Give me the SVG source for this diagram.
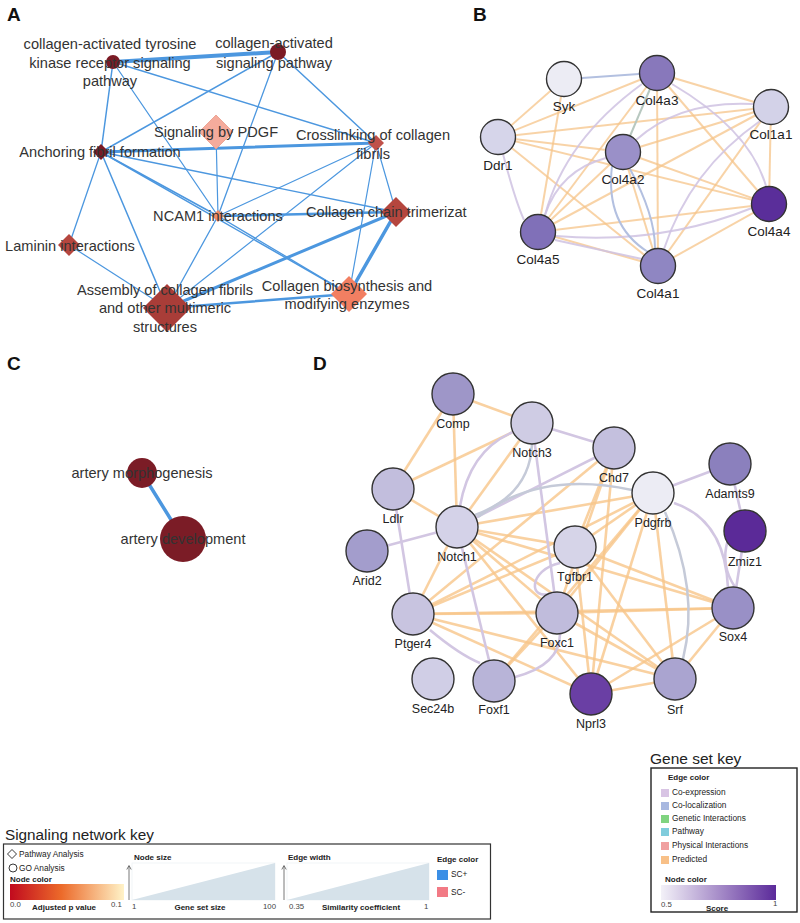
<svg xmlns="http://www.w3.org/2000/svg" width="800" height="923" viewBox="0 0 800 923">
<defs>
<linearGradient id="gradP" x1="0" x2="1" y1="0" y2="0"><stop offset="0" stop-color="#c10a1e"/><stop offset="0.45" stop-color="#ec6a2a"/><stop offset="1" stop-color="#fff3c8"/></linearGradient>
<linearGradient id="gradS" x1="0" x2="1" y1="0" y2="0"><stop offset="0" stop-color="#f3f1f8"/><stop offset="1" stop-color="#5b2a9a"/></linearGradient>
</defs>
<style>
text{font-family:"Liberation Sans",Arial,sans-serif}
.pl{font-size:19px;font-weight:bold;fill:#111}
.la{font-size:14.6px;fill:#333;text-anchor:middle}
.ea{stroke:#4c97df;fill:none;stroke-linecap:round}
.lb{font-size:13.5px;fill:#222;text-anchor:middle}
.ld{font-size:12.5px;fill:#222;text-anchor:middle}
.nb{stroke:#333;stroke-width:1.4}
.eo{stroke:#f5c48a;stroke-width:2;fill:none;opacity:.75}
.el{stroke:#cfc2e2;stroke-width:2;fill:none;opacity:.85}
.eb{stroke:#b3c0e0;stroke-width:2;fill:none}
.eg{stroke:#c5cad8;stroke-width:2.5;fill:none}
.do{stroke:#f7c68a;stroke-width:2.6;fill:none;opacity:.8}
.dl{stroke:#d2c6e2;stroke-width:2.6;fill:none}
.k{font-size:8.3px;fill:#222}
.kb{font-size:8px;font-weight:bold;fill:#222}
.kn{font-size:7.8px;fill:#444}
</style>

<!-- Panel labels -->
<text class="pl" x="7" y="21">A</text>
<text class="pl" x="473" y="21">B</text>
<text class="pl" x="7" y="370">C</text>
<text class="pl" x="313" y="370">D</text>

<!-- Panel A connectors -->
<g id="edges-A">
<line class="ea" x1="113" y1="62" x2="278" y2="52" stroke-width="4"/>
<line class="ea" x1="113" y1="62" x2="101" y2="152" stroke-width="1.5"/>
<line class="ea" x1="113" y1="62" x2="376" y2="143" stroke-width="1.5"/>
<line class="ea" x1="113" y1="62" x2="218" y2="216" stroke-width="1.3"/>
<line class="ea" x1="278" y1="52" x2="101" y2="152" stroke-width="1.5"/>
<line class="ea" x1="278" y1="52" x2="218" y2="216" stroke-width="1.3"/>
<line class="ea" x1="278" y1="52" x2="376" y2="143" stroke-width="1.5"/>
<line class="ea" x1="101" y1="152" x2="376" y2="143" stroke-width="3"/>
<line class="ea" x1="101" y1="152" x2="69" y2="245" stroke-width="1.3"/>
<line class="ea" x1="101" y1="152" x2="167" y2="308" stroke-width="1.5"/>
<line class="ea" x1="101" y1="152" x2="218" y2="216" stroke-width="1.5"/>
<line class="ea" x1="101" y1="152" x2="349" y2="294" stroke-width="1.5"/>
<line class="ea" x1="101" y1="152" x2="396" y2="212" stroke-width="1.3"/>
<line class="ea" x1="216" y1="132" x2="218" y2="216" stroke-width="1.2"/>
<line class="ea" x1="376" y1="143" x2="218" y2="216" stroke-width="1.2"/>
<line class="ea" x1="376" y1="143" x2="167" y2="308" stroke-width="1.2"/>
<line class="ea" x1="376" y1="143" x2="396" y2="212" stroke-width="1.2"/>
<line class="ea" x1="376" y1="143" x2="349" y2="294" stroke-width="1.2"/>
<line class="ea" x1="218" y1="216" x2="396" y2="212" stroke-width="2.5"/>
<line class="ea" x1="218" y1="216" x2="167" y2="308" stroke-width="1.3"/>
<line class="ea" x1="218" y1="216" x2="349" y2="294" stroke-width="1.3"/>
<line class="ea" x1="396" y1="212" x2="167" y2="308" stroke-width="3"/>
<line class="ea" x1="396" y1="212" x2="349" y2="294" stroke-width="3.5"/>
<line class="ea" x1="167" y1="308" x2="349" y2="294" stroke-width="2.5"/>
<line class="ea" x1="69" y1="245" x2="167" y2="308" stroke-width="1.2"/>
</g>

<!-- Panel A nodes -->
<g id="a-tyrosine"><circle cx="113" cy="62" r="7" fill="#7b1a25"/></g>
<g id="a-collagen-signaling"><circle cx="278" cy="52" r="8" fill="#7b1a25"/></g>
<g id="a-pdgf"><path d="M216,115 L233,132 L216,149 L199,132Z" fill="#f5ab9c" stroke="#e89988" stroke-width="0.8"/></g>
<g id="a-crosslinking"><path d="M376,135 L384,143 L376,151 L368,143Z" fill="#c0514a"/></g>
<g id="a-anchoring"><path d="M101,144 L109,152 L101,160 L93,152Z" fill="#7b1a25"/></g>
<g id="a-ncam1"><path d="M218,210 L224,216 L218,222 L212,216Z" fill="#f28a65"/></g>
<g id="a-trimerization"><path d="M396,197 L411,212 L396,227 L381,212Z" fill="#b5463e"/></g>
<g id="a-laminin"><path d="M69,234 L80,245 L69,256 L58,245Z" fill="#b5463e"/></g>
<g id="a-assembly"><path d="M167,284 L191,308 L167,332 L143,308Z" fill="#a93d38"/></g>
<g id="a-biosynthesis"><path d="M349,276 L367,294 L349,312 L331,294Z" fill="#f27f62"/></g>

<!-- Panel A labels -->
<g id="a-labels">
<text class="la" x="110" y="49">collagen-activated tyrosine</text>
<text class="la" x="110" y="68">kinase receptor signaling</text>
<text class="la" x="110" y="86">pathway</text>
<text class="la" x="274" y="48">collagen-activated</text>
<text class="la" x="274" y="68">signaling pathway</text>
<text class="la" x="216" y="137">Signaling by PDGF</text>
<text class="la" x="373" y="140">Crosslinking of collagen</text>
<text class="la" x="373" y="159">fibrils</text>
<text class="la" x="100" y="157">Anchoring fibril formation</text>
<text class="la" x="218" y="221">NCAM1 interactions</text>
<text class="la" x="306" y="217" style="text-anchor:start">Collagen chain trimerizat</text>
<text class="la" x="70" y="251">Laminin interactions</text>
<text class="la" x="165" y="295">Assembly of collagen fibrils</text>
<text class="la" x="165" y="313">and other multimeric</text>
<text class="la" x="165" y="332">structures</text>
<text class="la" x="347" y="291">Collagen biosynthesis and</text>
<text class="la" x="347" y="309">modifying enzymes</text>
</g>

<!-- Panel B connectors -->
<g id="edges-B">
<line class="eo" x1="564" y1="79" x2="498" y2="137"/>
<line class="eo" x1="498" y1="137" x2="657" y2="73"/>
<line class="eo" x1="498" y1="137" x2="771" y2="107"/>
<line class="eo" x1="498" y1="137" x2="623" y2="152"/>
<line class="eo" x1="498" y1="137" x2="769" y2="204"/>
<line class="eo" x1="498" y1="137" x2="658" y2="266"/>
<line class="eo" x1="657" y1="73" x2="771" y2="107"/>
<line class="eo" x1="657" y1="73" x2="769" y2="204"/>
<line class="eo" x1="657" y1="73" x2="658" y2="266"/>
<line class="eo" x1="657" y1="73" x2="538" y2="232"/>
<line class="eo" x1="771" y1="107" x2="623" y2="152"/>
<line class="eo" x1="771" y1="107" x2="769" y2="204"/>
<line class="eo" x1="771" y1="107" x2="538" y2="232"/>
<line class="eo" x1="771" y1="107" x2="658" y2="266"/>
<line class="eo" x1="623" y1="152" x2="769" y2="204"/>
<line class="eo" x1="623" y1="152" x2="538" y2="232"/>
<line class="eo" x1="623" y1="152" x2="658" y2="266"/>
<line class="eo" x1="769" y1="204" x2="538" y2="232"/>
<line class="eo" x1="538" y1="232" x2="658" y2="266"/>
<line class="eo" x1="769" y1="204" x2="658" y2="266"/>
<line class="eo" x1="564" y1="79" x2="538" y2="232"/>
<path class="el" d="M503,154 Q515,200 524,220"/>
<path class="el" d="M642,84 Q565,140 545,215"/>
<path class="el" d="M672,84 Q750,130 766,186"/>
<path class="el" d="M754,104 Q680,100 636,140"/>
<path class="el" d="M760,121 Q690,170 664,249"/>
<path class="el" d="M556,236 Q660,245 752,208"/>
<path class="el" d="M555,240 Q600,250 642,259"/>
<path class="el" d="M606,158 Q560,170 545,215"/>
<line class="eb" x1="582" y1="78" x2="639" y2="74"/>
<path class="eb" d="M612,166 Q605,225 648,252"/>
<path class="eb" d="M630,169 Q655,215 655,248"/>
<line x1="650" y1="89" x2="630" y2="136" stroke="#b8c8c0" stroke-width="2"/>
</g>

<!-- Panel B nodes -->
<g id="b-syk"><circle class="nb" cx="564" cy="79" r="17.5" fill="#ececf4"/><text class="lb" x="564" y="111">Syk</text></g>
<g id="b-col4a3"><circle class="nb" cx="657" cy="73" r="17.5" fill="#8878bb"/><text class="lb" x="657" y="105">Col4a3</text></g>
<g id="b-col1a1"><circle class="nb" cx="771" cy="107" r="17.5" fill="#d3d2e8"/><text class="lb" x="771" y="139">Col1a1</text></g>
<g id="b-ddr1"><circle class="nb" cx="498" cy="137" r="17.5" fill="#d6d5ea"/><text class="lb" x="498" y="170">Ddr1</text></g>
<g id="b-col4a2"><circle class="nb" cx="623" cy="152" r="17.5" fill="#9a90c8"/><text class="lb" x="623" y="184">Col4a2</text></g>
<g id="b-col4a4"><circle class="nb" cx="769" cy="204" r="17.5" fill="#5a2e9a"/><text class="lb" x="769" y="236">Col4a4</text></g>
<g id="b-col4a5"><circle class="nb" cx="538" cy="232" r="17.5" fill="#8070b8"/><text class="lb" x="538" y="264">Col4a5</text></g>
<g id="b-col4a1"><circle class="nb" cx="658" cy="266" r="17.5" fill="#8f86c2"/><text class="lb" x="658" y="298">Col4a1</text></g>

<!-- Panel C -->
<g id="edges-C"><line class="ea" x1="142" y1="473" x2="183" y2="539" stroke-width="3.5"/></g>
<g id="c-morphogenesis"><circle cx="142" cy="473" r="15" fill="#7b1c26"/><text class="la" x="142" y="478">artery morphogenesis</text></g>
<g id="c-development"><circle cx="183" cy="539" r="23" fill="#7b1c26"/><text class="la" x="183" y="544">artery development</text></g>

<!-- Panel D connectors -->
<g id="edges-D">
<line class="do" x1="453" y1="394" x2="532" y2="423"/>
<line class="do" x1="453" y1="394" x2="393" y2="489"/>
<line class="do" x1="453" y1="394" x2="457" y2="527"/>
<line class="do" x1="532" y1="423" x2="393" y2="489"/>
<line class="do" x1="532" y1="423" x2="457" y2="527"/>
<line class="do" x1="614" y1="448" x2="575" y2="547"/>
<line class="do" x1="614" y1="448" x2="413" y2="614"/>
<line class="do" x1="614" y1="448" x2="557" y2="613"/>
<line class="do" x1="614" y1="448" x2="591" y2="694"/>
<line class="do" x1="393" y1="489" x2="457" y2="527"/>
<line class="do" x1="653" y1="493" x2="457" y2="527"/>
<line class="do" x1="653" y1="493" x2="575" y2="547"/>
<line class="do" x1="653" y1="493" x2="413" y2="614"/>
<line class="do" x1="653" y1="493" x2="557" y2="613"/>
<line class="do" x1="653" y1="493" x2="591" y2="694"/>
<line class="do" x1="653" y1="493" x2="675" y2="679"/>
<line class="do" x1="653" y1="493" x2="494" y2="681"/>
<line class="do" x1="457" y1="527" x2="575" y2="547"/>
<line class="do" x1="457" y1="527" x2="557" y2="613"/>
<line class="do" x1="457" y1="527" x2="733" y2="608"/>
<line class="do" x1="457" y1="527" x2="675" y2="679"/>
<line class="do" x1="457" y1="527" x2="591" y2="694"/>
<line class="do" x1="457" y1="527" x2="413" y2="614"/>
<line class="do" x1="575" y1="547" x2="413" y2="614"/>
<line class="do" x1="575" y1="547" x2="733" y2="608"/>
<line class="do" x1="575" y1="547" x2="675" y2="679"/>
<line class="do" x1="575" y1="547" x2="591" y2="694"/>
<line class="do" x1="413" y1="614" x2="557" y2="613" stroke-width="3.2"/>
<line class="do" x1="413" y1="614" x2="733" y2="608" stroke-width="3"/>
<line class="do" x1="413" y1="614" x2="675" y2="679"/>
<line class="do" x1="413" y1="614" x2="591" y2="694"/>
<line class="do" x1="557" y1="613" x2="733" y2="608"/>
<line class="do" x1="557" y1="613" x2="675" y2="679"/>
<line class="do" x1="557" y1="613" x2="494" y2="681"/>
<line class="do" x1="591" y1="694" x2="675" y2="679"/>
<line class="do" x1="591" y1="694" x2="733" y2="608"/>
<line class="do" x1="675" y1="679" x2="733" y2="608"/>
<line class="dl" x1="532" y1="423" x2="614" y2="448"/>
<line class="dl" x1="532" y1="423" x2="557" y2="613"/>
<path class="dl" d="M513,432 Q470,450 460,506"/>
<line class="dl" x1="614" y1="448" x2="457" y2="527"/>
<line class="dl" x1="653" y1="493" x2="730" y2="464"/>
<line class="dl" x1="730" y1="464" x2="745" y2="531"/>
<line class="dl" x1="745" y1="531" x2="733" y2="608"/>
<path class="dl" d="M728,540 Q720,565 735,587"/>
<line class="dl" x1="393" y1="489" x2="413" y2="614"/>
<line class="dl" x1="367" y1="551" x2="457" y2="527"/>
<line class="dl" x1="457" y1="527" x2="494" y2="681"/>
<path class="dl" d="M560,563 C528,570 528,602 552,593"/>
<path class="dl" d="M430,630 Q460,655 480,663"/>
<path class="dl" d="M515,677 Q560,665 560,634"/>
<path class="dl" d="M674,503 Q725,520 728,588"/>
<path class="eg" d="M532,444 Q530,495 475,515"/>
<path class="eg" d="M632,490 Q540,470 478,517"/>
<path class="eg" d="M665,512 Q700,590 683,659"/>
</g>

<!-- Panel D nodes -->
<g id="d-comp"><circle class="nb" cx="453" cy="394" r="21" fill="#9e96c8"/><text class="ld" x="453" y="428">Comp</text></g>
<g id="d-notch3"><circle class="nb" cx="532" cy="423" r="21" fill="#cfcce4"/><text class="ld" x="532" y="457">Notch3</text></g>
<g id="d-chd7"><circle class="nb" cx="614" cy="448" r="21" fill="#c4c0de"/><text class="ld" x="614" y="482">Chd7</text></g>
<g id="d-adamts9"><circle class="nb" cx="730" cy="464" r="21" fill="#8b80bd"/><text class="ld" x="730" y="498">Adamts9</text></g>
<g id="d-ldlr"><circle class="nb" cx="393" cy="489" r="21" fill="#c2bedd"/><text class="ld" x="393" y="523">Ldlr</text></g>
<g id="d-pdgfrb"><circle class="nb" cx="653" cy="493" r="21" fill="#ececf4"/><text class="ld" x="653" y="527">Pdgfrb</text></g>
<g id="d-notch1"><circle class="nb" cx="457" cy="527" r="21" fill="#d4d2e8"/><text class="ld" x="457" y="561">Notch1</text></g>
<g id="d-zmiz1"><circle class="nb" cx="745" cy="531" r="21" fill="#5b2a98"/><text class="ld" x="745" y="566">Zmiz1</text></g>
<g id="d-arid2"><circle class="nb" cx="367" cy="551" r="21" fill="#a39dcc"/><text class="ld" x="367" y="585">Arid2</text></g>
<g id="d-tgfbr1"><circle class="nb" cx="575" cy="547" r="21" fill="#d6d4e8"/><text class="ld" x="575" y="581">Tgfbr1</text></g>
<g id="d-ptger4"><circle class="nb" cx="413" cy="614" r="21" fill="#c8c4e0"/><text class="ld" x="413" y="648">Ptger4</text></g>
<g id="d-foxc1"><circle class="nb" cx="557" cy="613" r="21" fill="#c0bcdc"/><text class="ld" x="557" y="647">Foxc1</text></g>
<g id="d-sox4"><circle class="nb" cx="733" cy="608" r="21" fill="#9990c6"/><text class="ld" x="733" y="641">Sox4</text></g>
<g id="d-sec24b"><circle class="nb" cx="433" cy="679" r="21" fill="#d0cee6"/><text class="ld" x="433" y="713">Sec24b</text></g>
<g id="d-foxf1"><circle class="nb" cx="494" cy="681" r="21" fill="#b8b4d8"/><text class="ld" x="494" y="714">Foxf1</text></g>
<g id="d-srf"><circle class="nb" cx="675" cy="679" r="21" fill="#aaa4d0"/><text class="ld" x="675" y="714">Srf</text></g>
<g id="d-nprl3"><circle class="nb" cx="591" cy="694" r="21" fill="#6a3fa4"/><text class="ld" x="591" y="728">Nprl3</text></g>

<!-- Signaling network key -->
<g id="signaling-key">
<text x="5" y="840" font-size="15.3" fill="#222">Signaling network key</text>
<rect x="3.5" y="844" width="487" height="75" fill="none" stroke="#333" stroke-width="1.2"/>
<path d="M12,849.5 L16.5,854 L12,858.5 L7.5,854Z" fill="none" stroke="#222" stroke-width="0.9"/>
<text class="k" x="19" y="857">Pathway Analysis</text>
<circle cx="13" cy="868" r="4" fill="none" stroke="#222" stroke-width="0.9"/>
<text class="k" x="19" y="871">GO Analysis</text>
<text class="kb" x="10" y="882">Node color</text>
<rect x="10" y="884" width="114" height="16" fill="url(#gradP)"/>
<text class="kn" x="10" y="907">0.0</text>
<text class="kb" x="32" y="910">Adjusted p value</text>
<text class="kn" x="111" y="907">0.1</text>
<text class="kb" x="134" y="860">Node size</text>
<rect x="132" y="863" width="143" height="37" fill="none" stroke="#eef2f5" stroke-width="0.8"/>
<polygon points="132,900 275,863 275,900" fill="#d6e2ea"/>
<path d="M129,900 V866 M126.8,869.5 L129,865.5 L131.2,869.5" fill="none" stroke="#555" stroke-width="0.8"/>
<text class="kn" x="132" y="909">1</text>
<text class="kb" x="200" y="910" text-anchor="middle">Gene set size</text>
<text class="kn" x="263" y="909">100</text>
<text class="kb" x="288" y="860">Edge width</text>
<rect x="287" y="863" width="142" height="37" fill="none" stroke="#eef2f5" stroke-width="0.8"/>
<polygon points="287,900 429,863 429,900" fill="#d6e2ea"/>
<path d="M284,900 V866 M281.8,869.5 L284,865.5 L286.2,869.5" fill="none" stroke="#555" stroke-width="0.8"/>
<text class="kn" x="289" y="909">0.35</text>
<text class="kb" x="361" y="910" text-anchor="middle">Similarity coefficient</text>
<text class="kn" x="424" y="909">1</text>
<text class="kb" x="437" y="862">Edge color</text>
<rect x="437" y="870" width="11" height="10" fill="#3b8fe6"/>
<text class="k" x="451" y="877">SC+</text>
<rect x="437" y="887" width="11" height="10" fill="#f27a85"/>
<text class="k" x="451" y="895">SC-</text>
</g>

<!-- Gene set key -->
<g id="gene-set-key">
<text x="650" y="764" font-size="15.5" fill="#222">Gene set key</text>
<rect x="651" y="768" width="146" height="144" fill="none" stroke="#222" stroke-width="1.4"/>
<text class="kb" x="668" y="780">Edge color</text>
<rect x="661" y="789" width="8" height="8" fill="#d8c4e4"/><text class="k" x="672" y="795">Co-expression</text>
<rect x="661" y="802" width="8" height="8" fill="#a8b8e0"/><text class="k" x="672" y="808">Co-localization</text>
<rect x="661" y="815" width="8" height="8" fill="#80d480"/><text class="k" x="672" y="821">Genetic Interactions</text>
<rect x="661" y="828" width="8" height="8" fill="#80ccdc"/><text class="k" x="672" y="834">Pathway</text>
<rect x="661" y="842" width="8" height="8" fill="#f0a0a0"/><text class="k" x="672" y="848">Physical Interactions</text>
<rect x="661" y="856" width="8" height="8" fill="#f8c088"/><text class="k" x="672" y="862">Predicted</text>
<text class="kb" x="665" y="882">Node color</text>
<rect x="661" y="885" width="115" height="15" fill="url(#gradS)"/>
<text class="kn" x="661" y="907">0.5</text>
<text class="kb" x="717" y="911" text-anchor="middle">Score</text>
<text class="kn" x="773" y="906">1</text>
</g>
</svg>
